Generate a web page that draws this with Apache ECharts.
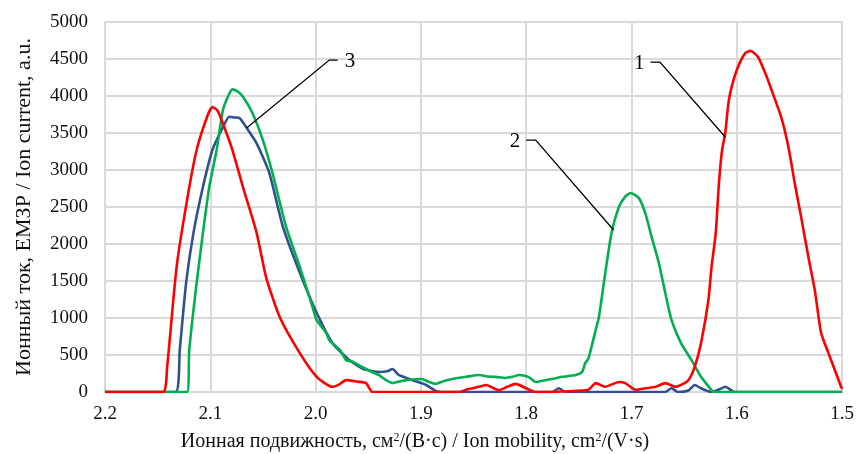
<!DOCTYPE html>
<html><head><meta charset="utf-8">
<script src="https://cdn.jsdelivr.net/npm/echarts@6/dist/echarts.min.js"></script>
<style>html,body{margin:0;padding:0;background:#fff}#c{width:857px;height:454px}</style>
</head><body><div id="c"></div>
<script>
// Ion mobility (x) and ion current (y) for each curve
const redX = [2.2,2.145,2.141,2.132,2.122,2.113,2.103,2.098,2.093,2.086,2.079,2.069,2.056,2.047,2.034,2.015,1.999,1.984,1.978,1.971,1.960,1.952,1.946,1.864,1.855,1.845,1.838,1.826,1.818,1.810,1.800,1.791,1.782,1.760,1.741,1.734,1.725,1.712,1.706,1.696,1.687,1.677,1.668,1.658,1.653,1.646,1.640,1.634,1.627,1.624,1.620,1.617,1.614,1.611,1.608,1.605,1.599,1.592,1.587,1.580,1.573,1.567,1.558,1.551,1.545,1.539,1.532,1.526,1.520,1.513,1.507,1.501,1.5];
const redY = [0,0,340,1690,2600,3270,3720,3850,3800,3550,3270,2770,2150,1550,1010,525,205,70,100,160,140,120,0,0,40,70,95,25,70,110,50,0,0,10,30,120,70,135,120,30,50,70,120,70,95,160,340,660,1240,1690,2150,2820,3270,3500,3900,4120,4390,4580,4610,4530,4310,4080,3720,3310,2820,2370,1820,1380,800,525,300,70,40];

const greenX = [2.2,2.122,2.120,2.113,2.107,2.101,2.094,2.088,2.083,2.079,2.074,2.069,2.060,2.050,2.041,2.028,2.015,2.003,1.999,1.990,1.987,1.977,1.971,1.965,1.956,1.948,1.940,1.933,1.927,1.921,1.914,1.899,1.893,1.886,1.878,1.870,1.857,1.845,1.837,1.829,1.820,1.813,1.807,1.798,1.791,1.782,1.774,1.766,1.753,1.747,1.744,1.741,1.738,1.734,1.731,1.725,1.719,1.712,1.706,1.701,1.693,1.687,1.681,1.674,1.668,1.662,1.653,1.643,1.634,1.624,1.622,1.5];
const greenY = [0,0,570,1470,2150,2770,3270,3810,4000,4090,4060,3990,3770,3400,2960,2230,1690,1150,970,800,700,570,430,410,340,280,230,160,120,140,160,175,140,110,150,175,205,230,210,205,190,205,230,205,135,160,180,205,230,270,390,450,610,840,1010,1600,2150,2500,2640,2690,2620,2420,2100,1740,1340,970,660,430,205,25,0,0];

const blueX = [2.2,2.133,2.129,2.123,2.116,2.107,2.098,2.088,2.082,2.077,2.072,2.066,2.056,2.044,2.031,2.015,1.999,1.984,1.971,1.968,1.956,1.952,1.940,1.932,1.927,1.921,1.908,1.895,1.886,1.880,1.775,1.769,1.763,1.668,1.662,1.656,1.646,1.640,1.634,1.624,1.616,1.611,1.602,1.5];
const blueY = [0,0,570,1470,2150,2770,3270,3580,3720,3710,3700,3580,3360,2960,2230,1610,1070,660,470,430,320,300,270,280,310,230,160,95,15,0,0,50,0,0,50,0,20,95,50,0,40,70,0,0];

const xTicks = [2.2,2.1,2.0,1.9,1.8,1.7,1.6,1.5];
const yTicks = [0,500,1000,1500,2000,2500,3000,3500,4000,4500,5000];

// annotation labels with leader lines (data coordinates: label end, elbow, target)
const annLabels = ['1','2','3'];
const annStart = [[1.682,4459],[1.800,3405],[1.979,4486]];
const annElbow = [[1.673,4459],[1.791,3405],[1.987,4486]];
const annEnd = [[1.611,3446],[1.717,2189],[2.0655,3568]];
const annSide = ['left','left','right'];

const zip = (xs, ys) => xs.map((x,i)=>[x,ys[i]]);
const FONT = '"Liberation Serif", "Times New Roman", serif';

const chart = echarts.init(document.getElementById('c'), null, {renderer:'canvas'});
const lineSeries = (name, xs, ys, color, z) => ({
  name, type:'line', data:zip(xs,ys), showSymbol:false, smooth:0.2,
  lineStyle:{color, width:2.6}, z
});
chart.setOption({
  animation:false,
  backgroundColor:'#fff',
  grid:{left:105,right:13,top:22,bottom:62},
  xAxis:{
    type:'value', inverse:true, min:1.5, max:2.2, interval:0.1,
    axisLine:{show:true,lineStyle:{color:'#d9d9d9',width:2}},
    axisTick:{show:false},
    splitLine:{show:true,lineStyle:{color:'#d9d9d9',width:2}},
    axisLabel:{fontFamily:FONT,fontSize:19,color:'#111',margin:13,
      formatter:v=>{const t=xTicks.find(k=>Math.abs(k-v)<1e-6);return (t!==undefined?t:v).toFixed(1);}}
  },
  yAxis:{
    type:'value', min:0, max:5000, interval:500,
    name:'Ионный ток, ЕМЗР / Ion current, a.u.',
    nameLocation:'middle', nameGap:70,
    nameTextStyle:{fontFamily:FONT,fontSize:22,color:'#111'},
    axisLine:{show:true,lineStyle:{color:'#d9d9d9',width:2}},
    axisTick:{show:false},
    splitLine:{show:true,lineStyle:{color:'#d9d9d9',width:2}},
    axisLabel:{fontFamily:FONT,fontSize:19,color:'#111',margin:17,formatter:v=>String(v)}
  },
  series:[
    lineSeries('3', blueX, blueY, '#2f528f', 2),
    lineSeries('2', greenX, greenY, '#00b050', 3),
    lineSeries('1', redX, redY, '#ff0000', 4)
  ]
});

const g = [];
annLabels.forEach((lab,i)=>{
  const p0 = chart.convertToPixel({gridIndex:0}, annStart[i]);
  const p1 = chart.convertToPixel({gridIndex:0}, annElbow[i]);
  const p2 = chart.convertToPixel({gridIndex:0}, annEnd[i]);
  g.push({type:'polyline',shape:{points:[p0,p1,p2]},style:{stroke:'#000',lineWidth:1.3,fill:null},z:10});
  const tx = annSide[i]==='left' ? p0[0]-6 : p0[0]+7;
  g.push({type:'text',x:tx,y:p0[1]+1,style:{text:lab,font:'21px '+FONT,fill:'#000',
    align:annSide[i]==='left'?'right':'left',verticalAlign:'middle'},z:10});
});
g.push({type:'text',x:415,y:442,style:{
  text:'Ионная подвижность, см{s|2}/(В·с) / Ion mobility, cm{s|2}/(V·s)',
  rich:{s:{fontSize:12,fontFamily:FONT,verticalAlign:'top',padding:[0,0,9,0],fill:'#111'}},
  font:'20px '+FONT,fill:'#111',align:'center',verticalAlign:'middle'}});
chart.setOption({graphic:g});
</script></body></html>
